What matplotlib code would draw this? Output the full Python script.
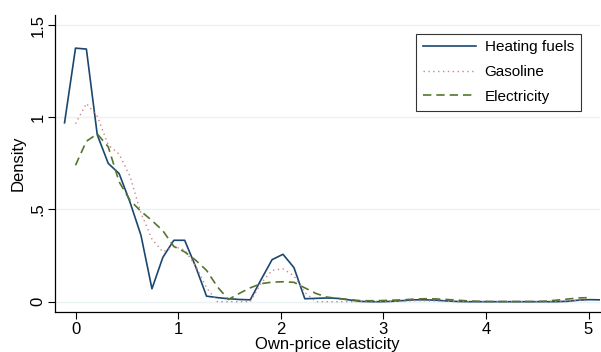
import matplotlib
matplotlib.use("Agg")
import matplotlib.pyplot as plt

plt.rcParams["font.family"] = ["Liberation Sans", "DejaVu Sans"]

# ── Data ──────────────────────────────────────
x_grid = [-0.107, 0.000, 0.106, 0.212, 0.319, 0.425, 0.531, 0.638, 0.745, 0.851,
          0.958, 1.064, 1.171, 1.277, 1.384, 1.490, 1.597, 1.703, 1.809, 1.916,
          2.022, 2.129, 2.235, 2.342, 2.448, 2.555, 2.661, 2.768, 2.874, 2.981,
          3.087, 3.194, 3.300, 3.407, 3.513, 3.620, 3.726, 3.833, 3.939, 4.045,
          4.152, 4.258, 4.365, 4.471, 4.578, 4.684, 4.791, 4.897, 5.004, 5.110]

heating = [0.970, 1.375, 1.370, 0.905, 0.750, 0.695, 0.540, 0.360, 0.070, 0.240,
           0.333, 0.333, 0.190, 0.030, 0.022, 0.016, 0.012, 0.010, 0.120, 0.228,
           0.257, 0.185, 0.016, 0.018, 0.020, 0.018, 0.010, 0.002, 0.000, 0.000,
           0.002, 0.006, 0.010, 0.010, 0.008, 0.004, 0.001, 0.000, 0.000, 0.000,
           0.000, 0.000, 0.000, 0.000, 0.000, 0.000, 0.002, 0.008, 0.011, 0.010]

# gasoline and electricity start at x = 0 (second grid point)
gasoline = [0.965, 1.075, 1.005, 0.850, 0.800, 0.680, 0.480, 0.340, 0.270,
            0.300, 0.280, 0.195, 0.075, 0.000, 0.000, 0.000, 0.000, 0.100, 0.170,
            0.178, 0.140, 0.050, 0.000, 0.000, 0.000, 0.000, 0.000, 0.000, 0.000,
            0.001, 0.003, 0.005, 0.005, 0.004, 0.002, 0.000, 0.000, 0.000, 0.000,
            0.000, 0.000, 0.000, 0.000, 0.000, 0.002, 0.005, 0.007, 0.006]

electricity = [0.740, 0.870, 0.910, 0.840, 0.650, 0.550, 0.490, 0.440, 0.385,
               0.300, 0.270, 0.225, 0.170, 0.080, 0.012, 0.045, 0.075, 0.098, 0.106,
               0.108, 0.105, 0.075, 0.045, 0.025, 0.018, 0.012, 0.006, 0.005, 0.006,
               0.008, 0.010, 0.014, 0.016, 0.015, 0.012, 0.008, 0.004, 0.002, 0.001,
               0.001, 0.001, 0.001, 0.001, 0.003, 0.008, 0.014, 0.020, 0.022]

series_labels = ["Heating fuels", "Gasoline", "Electricity"]
x_ticks = [0, 1, 2, 3, 4, 5]
y_ticks = [0, 0.5, 1, 1.5]
y_ticklabels = ["0", ".5", "1", "1.5"]

# ── Figure ────────────────────────────────────
fig = plt.figure(figsize=(6.01, 3.52), dpi=100)
ax = fig.add_axes([0.0915, 0.1136, 0.9065, 0.8434])

for y in y_ticks:
    ax.axhline(y, color="#eaf2f3", lw=1.0, zorder=0)

ax.plot(x_grid, heating, color="#1a476f", lw=1.2, label=series_labels[0])
ax.plot(x_grid[1:1 + len(gasoline)], gasoline, color="#c9868c", lw=1.0,
        linestyle=(0, (1, 2.5)), label=series_labels[1])
ax.plot(x_grid[1:1 + len(electricity)], electricity, color="#55752f", lw=1.2,
        linestyle=(0, (5, 3)), label=series_labels[2])

ax.set_xlim(-0.2, 5.11)
ax.set_ylim(-0.056, 1.554)
ax.set_xticks(x_ticks)
ax.set_yticks(y_ticks)
ax.set_yticklabels(y_ticklabels, rotation=90, va="center")
ax.tick_params(axis="both", labelsize=12, length=5, width=0.8, color="black", pad=2)
ax.spines["top"].set_visible(False)
ax.spines["right"].set_visible(False)
ax.spines["left"].set_linewidth(0.9)
ax.spines["bottom"].set_linewidth(0.9)

ax.set_xlabel("Own-price elasticity", fontsize=12, labelpad=0)
ax.set_ylabel("Density", fontsize=12, labelpad=3)

leg = ax.legend(loc="upper right", bbox_to_anchor=(0.965, 0.938), fontsize=11,
                frameon=True, fancybox=False, edgecolor="black",
                handlelength=3.5, handletextpad=0.55, labelspacing=0.7,
                borderpad=0.45, borderaxespad=0)
leg.get_frame().set_linewidth(0.8)

fig.savefig("out.png", dpi=100)
